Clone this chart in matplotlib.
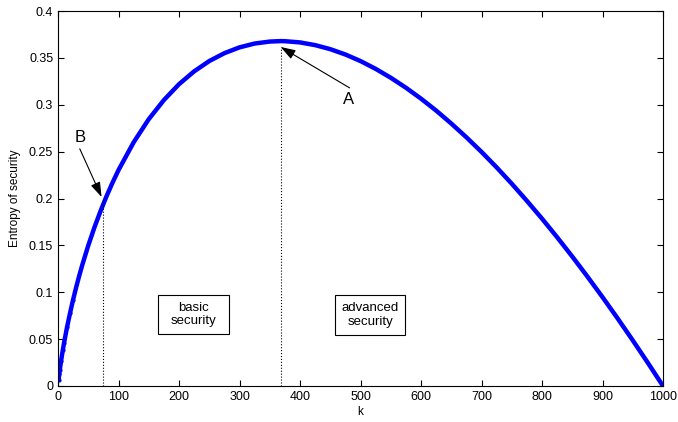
import matplotlib
matplotlib.use("Agg")
import matplotlib.pyplot as plt
from matplotlib.patches import Rectangle

plt.rcParams["font.family"] = ["Liberation Sans", "DejaVu Sans"]

# values
k_values = [1, 2, 3, 5, 8, 10, 15, 20, 25, 30, 35, 40, 50, 60, 70, 80, 90,
            100, 125, 150, 175, 200, 225, 250, 275, 300, 325, 350, 368, 375,
            400, 425, 450, 475, 500, 525, 550, 575, 600, 625, 650, 675, 700,
            725, 750, 775, 800, 825, 850, 875, 900, 925, 950, 975, 1000]
entropy = [0.0069, 0.0124, 0.0174, 0.0265, 0.0386, 0.046, 0.063, 0.078, 0.0922,
           0.1052, 0.1174, 0.1288, 0.1498, 0.1688, 0.1861, 0.2021, 0.2167,
           0.2303, 0.2599, 0.2846, 0.3050, 0.3219, 0.3356, 0.3466, 0.3550,
           0.3612, 0.3653, 0.3674, 0.3679, 0.3678, 0.3665, 0.3636, 0.3593,
           0.3536, 0.3466, 0.3383, 0.3288, 0.3182, 0.3065, 0.2938, 0.2800,
           0.2653, 0.2497, 0.2332, 0.2158, 0.1975, 0.1785, 0.1587, 0.1381,
           0.1168, 0.0948, 0.0721, 0.0487, 0.0247, 0.0]

point_a = (368, 0.3616)
point_b = (72, 0.2016)
label_a_pos = (482, 0.318)
label_b_pos = (36, 0.253)
boundary_b = (74, 0.20)
boundary_a = (369, 0.362)
regions = [("basic\nsecurity", 224, 0.0766), ("advanced\nsecurity", 516, 0.0759)]
region_box_w = 116
region_box_h = 0.042

x_ticks = list(range(0, 1001, 100))
y_ticks = [0, 0.05, 0.1, 0.15, 0.2, 0.25, 0.3, 0.35, 0.4]
y_tick_labels = ["0", "0.05", "0.1", "0.15", "0.2", "0.25", "0.3", "0.35", "0.4"]

fig = plt.figure(figsize=(6.78, 4.22), dpi=100)
ax = fig.add_axes([58 / 678, 36 / 422, 605 / 678, 375 / 422])

ax.plot(k_values, entropy, color="#0000ff", linewidth=3.2, solid_capstyle="round",
        solid_joinstyle="round")
ax.plot(k_values[:9], entropy[:9], ".", color="#0000ff", markersize=4)

ax.plot([boundary_b[0], boundary_b[0]], [0, boundary_b[1]], ":", color="black", linewidth=0.8)
ax.plot([boundary_a[0], boundary_a[0]], [0, boundary_a[1]], ":", color="black", linewidth=0.8)

arrow = dict(arrowstyle="-|>,head_length=0.9,head_width=0.3", color="black",
             linewidth=0.8, shrinkA=0, shrinkB=0)
ax.annotate("", xy=point_a, xytext=label_a_pos, arrowprops=arrow)
ax.annotate("", xy=point_b, xytext=label_b_pos, arrowprops=arrow)
ax.text(label_a_pos[0] - 2, label_a_pos[1] - 0.004, "A", fontsize=12, ha="center", va="top")
ax.text(label_b_pos[0], label_b_pos[1] + 0.004, "B", fontsize=12, ha="center", va="bottom")

for txt, x, y in regions:
    ax.add_patch(Rectangle((x - region_box_w / 2, y - region_box_h / 2),
                           region_box_w, region_box_h, facecolor="white",
                           edgecolor="black", linewidth=0.8, zorder=3))
    ax.text(x, y, txt, fontsize=9.5, ha="center", va="center", linespacing=1.15,
            zorder=4)

ax.set_xlim(0, 1000)
ax.set_ylim(0, 0.4)
ax.set_xticks(x_ticks)
ax.set_yticks(y_ticks)
ax.set_yticklabels(y_tick_labels)
ax.tick_params(direction="in", top=True, right=True, length=4, labelsize=9, width=0.8)
for s in ax.spines.values():
    s.set_linewidth(0.8)
ax.set_xlabel("k", fontsize=8.5, labelpad=2)
ax.set_ylabel("Entropy of security", fontsize=8.5, labelpad=6)

fig.savefig("out.png", dpi=100)
